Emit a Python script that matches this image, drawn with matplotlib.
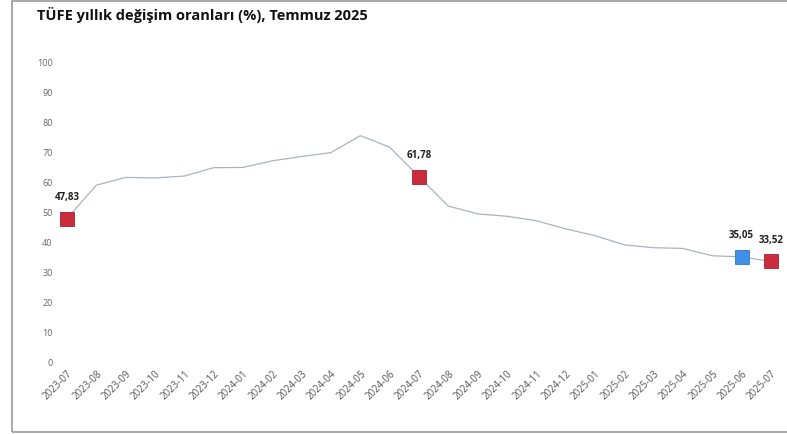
import matplotlib.pyplot as plt
from matplotlib.patches import Rectangle

months = ['2023-07', '2023-08', '2023-09', '2023-10', '2023-11', '2023-12',
          '2024-01', '2024-02', '2024-03', '2024-04', '2024-05', '2024-06',
          '2024-07', '2024-08', '2024-09', '2024-10', '2024-11', '2024-12',
          '2025-01', '2025-02', '2025-03', '2025-04', '2025-05', '2025-06',
          '2025-07']
tufe = [47.83, 58.94, 61.53, 61.36, 61.98, 64.77, 64.86, 67.07, 68.50, 69.80,
        75.45, 71.60, 61.78, 51.97, 49.38, 48.58, 47.09, 44.38, 42.12, 39.05,
        38.10, 37.86, 35.41, 35.05, 33.52]
red_idx = [0, 12, 24]
blue_idx = [23]
yticks = list(range(0, 101, 10))

W, H = 787, 435
fig = plt.figure(figsize=(W / 100, H / 100), dpi=100)
fig.patches.append(Rectangle((12 / W, 2 / H), 1, 431 / H, transform=fig.transFigure,
                             fill=False, edgecolor='#9a9a9a', linewidth=1.2))

# axes placed so that x=0 sits at 67px and x=24 at 771px
step = (771 - 67) / 24
x0, x1 = -0.3, 24.3
left = 67 + x0 * step
ax = fig.add_axes([left / W, 1 - 363 / H, (x1 - x0) * step / W, 300 / H])
ax.set_xlim(x0, x1)
ax.set_ylim(0, 100)

xs = list(range(len(months)))
ax.plot(xs, tufe, color='#aab2c4', linewidth=0.9, zorder=2)
for i in red_idx:
    ax.plot(i, tufe[i], 's', markersize=10, color='#cc2b3d',
            markeredgecolor='#a81f30', markeredgewidth=0.6, zorder=3)
for i in blue_idx:
    ax.plot(i, tufe[i], 's', markersize=10, color='#3f90e6',
            markeredgecolor='#2f78c8', markeredgewidth=0.6, zorder=3)

for i in red_idx + blue_idx:
    lbl = f'{tufe[i]:.2f}'.replace('.', ',')
    ax.annotate(lbl, (i, tufe[i]), xytext=(0, 12), textcoords='offset points',
                ha='center', va='bottom', fontsize=7, fontweight='bold',
                color='#222222', family='Open Sans')

ax.set_yticks(yticks)
ax.set_yticklabels([str(v) for v in yticks], fontsize=6.5, color='#666666',
                   family='Open Sans')
ax.set_xticks(xs)
ax.set_xticklabels(months, rotation=45, ha='right', rotation_mode='anchor',
                   fontsize=7, color='#555555', family='Open Sans')
ax.tick_params(length=0, pad=4)
for s in ax.spines.values():
    s.set_visible(False)

fig.text(37 / W, 1 - 15 / H, 'TÜFE yıllık değişim oranları (%), Temmuz 2025',
         fontsize=10.5, fontweight='bold', family='Open Sans', color='#111111',
         va='center', ha='left')

fig.savefig('out.png', dpi=100)
